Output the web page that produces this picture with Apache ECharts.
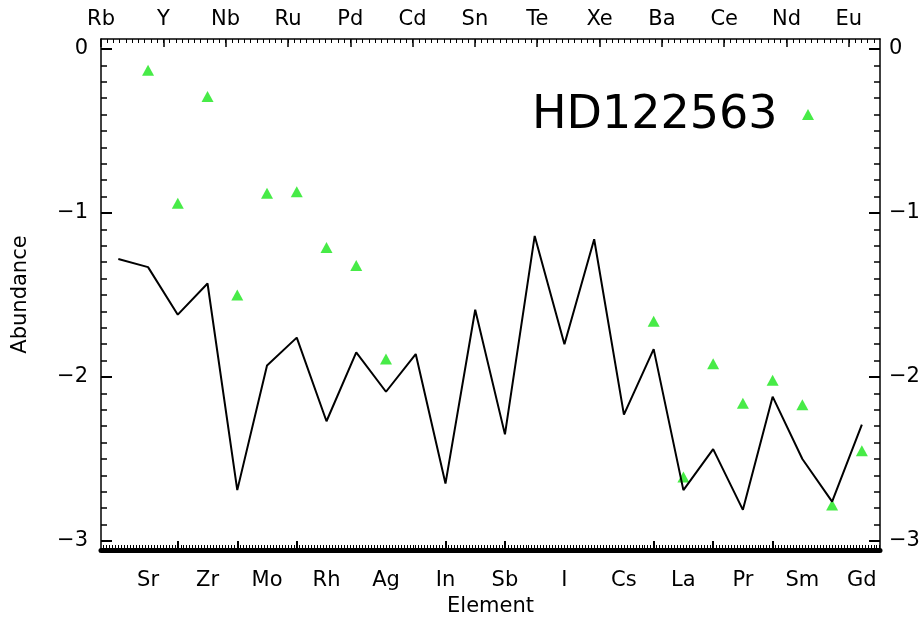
<!DOCTYPE html>
<html>
<head>
<meta charset="utf-8">
<script src="https://cdn.jsdelivr.net/npm/echarts@6/dist/echarts.min.js"></script>
<style>html,body{margin:0;padding:0;background:#fff}#c{width:922px;height:620px}</style>
</head>
<body>
<div id="c"></div>
<script>
// Elements in plotting order
const elements = ['Rb','Sr','Y','Zr','Nb','Mo','Ru','Rh','Pd','Ag','Cd','In','Sn','Sb','Te','I','Xe','Cs','Ba','La','Ce','Pr','Nd','Sm','Eu','Gd'];
// Model curve (black line)
const modelValues = [-1.28,-1.33,-1.62,-1.43,-2.69,-1.93,-1.76,-2.27,-1.85,-2.09,-1.86,-2.65,-1.59,-2.35,-1.14,-1.80,-1.16,-2.23,-1.83,-2.69,-2.44,-2.81,-2.12,-2.50,-2.76,-2.29];
// Observed abundances HD122563 (green triangles)
const obsValues = [null,-0.13,-0.94,-0.29,-1.50,-0.88,-0.87,-1.21,-1.32,-1.89,null,null,null,null,null,null,null,null,-1.66,-2.61,-1.92,-2.16,-2.02,-2.17,-2.78,-2.45];
// Tick labels
const bottomLabels = ['Sr','Zr','Mo','Rh','Ag','In','Sb','I','Cs','La','Pr','Sm','Gd'];
const topLabels = ['Rb','Y','Nb','Ru','Pd','Cd','Sn','Te','Xe','Ba','Ce','Nd','Eu'];
const yTicks = [-3,-2,-1,0];
const bottomMajorTicks = [2,4,6,11,13,18,20,22];

const bottomLabelPos = bottomLabels.map(n => elements.indexOf(n));
const topLabelPos = topLabels.map((n,i) => i);
function steps(a,b,s){const r=[];for(let v=a;v<=b+1e-9;v+=s)r.push(Math.round(v*100)/100);return r;}

const FONT = 'DejaVu Sans';
const FS = 21;
const XMIN=-0.582, XMAX=25.61, TMIN=0, TMAX=12.5, YMIN=-3.055, YMAX=0.061;
const minusU = v => (Math.round(v)<0 ? '\u2212' + Math.abs(Math.round(v)) : String(Math.round(v)));
const minusRich = v => '{a|' + minusU(v) + '}';

const chart = echarts.init(document.getElementById('c'), null, {renderer:'canvas'});
chart.setOption({
  animation:false,
  backgroundColor:'#fff',
  title:{text:'HD122563', left:527, top:88, textStyle:{fontFamily:FONT, fontSize:46, fontWeight:'normal', color:'#000'}},
  legend:{data:['HD122563'], left:802, top:109, itemWidth:12, itemHeight:11, formatter:()=> '', padding:0},
  grid:{left:101, right:42, top:39, bottom:70, outerBoundsMode:'none', containLabel:false},
  xAxis:[
    {type:'value', position:'bottom', min:XMIN, max:XMAX,
     name:'Element', nameLocation:'middle', nameGap:46, nameTextStyle:{fontFamily:FONT, fontSize:FS, color:'#000'},
     axisLine:{show:true, onZero:false, lineStyle:{color:'#000', width:5}},
     axisTick:{show:true, inside:true, length:9, customValues:bottomMajorTicks, lineStyle:{color:'#000', width:2}},
     axisLabel:{show:true, customValues:bottomLabelPos, formatter:v=>elements[Math.round(v)], margin:20, fontFamily:FONT, fontSize:FS, color:'#000'},
     splitLine:{show:false}},
    {type:'value', position:'bottom', min:XMIN, max:XMAX,
     axisLine:{show:false, onZero:false}, axisLabel:{show:false}, splitLine:{show:false},
     axisTick:{show:true, inside:true, length:5, customValues:steps(-0.5,25.6,0.1), lineStyle:{color:'#000', width:1}}},
    {type:'value', position:'top', min:TMIN, max:TMAX,
     axisLine:{show:true, onZero:false, lineStyle:{color:'#000', width:1.5}},
     axisTick:{show:true, inside:true, length:8, customValues:topLabelPos, lineStyle:{color:'#000', width:1.5}},
     axisLabel:{show:true, customValues:topLabelPos, formatter:v=>topLabels[Math.round(v)], margin:9, fontFamily:FONT, fontSize:FS, color:'#000'},
     splitLine:{show:false}},
    {type:'value', position:'top', min:TMIN, max:TMAX,
     axisLine:{show:false, onZero:false}, axisLabel:{show:false}, splitLine:{show:false},
     axisTick:{show:true, inside:true, length:4, customValues:steps(0.1,12.4,0.1), lineStyle:{color:'#000', width:1}}}
  ],
  yAxis:[
    {type:'value', position:'left', min:YMIN, max:YMAX,
     name:'Abundance', nameLocation:'middle', nameGap:70, nameRotate:90, nameTextStyle:{fontFamily:FONT, fontSize:FS, color:'#000'},
     axisLine:{show:true, onZero:false, lineStyle:{color:'#000', width:1.5}},
     axisTick:{show:true, inside:true, length:11, customValues:yTicks, lineStyle:{color:'#000', width:2}},
     axisLabel:{show:true, customValues:yTicks, formatter:minusRich, margin:13, fontFamily:FONT, fontSize:FS, color:'#000',
       rich:{a:{width:34, align:'right', fontFamily:FONT, fontSize:FS, color:'#000'}}},
     splitLine:{show:false}},
    {type:'value', position:'left', min:YMIN, max:YMAX,
     axisLine:{show:false, onZero:false}, axisLabel:{show:false}, splitLine:{show:false},
     axisTick:{show:true, inside:true, length:6, customValues:steps(-3,0,0.1), lineStyle:{color:'#000', width:1.5}}},
    {type:'value', position:'right', min:YMIN, max:YMAX,
     axisLine:{show:true, onZero:false, lineStyle:{color:'#000', width:1.5}},
     axisTick:{show:true, inside:true, length:11, customValues:yTicks, lineStyle:{color:'#000', width:2}},
     axisLabel:{show:true, customValues:yTicks, formatter:minusU, margin:9, fontFamily:FONT, fontSize:FS, color:'#000'},
     splitLine:{show:false}},
    {type:'value', position:'right', min:YMIN, max:YMAX,
     axisLine:{show:false, onZero:false}, axisLabel:{show:false}, splitLine:{show:false},
     axisTick:{show:true, inside:true, length:6, customValues:steps(-3,0,0.1), lineStyle:{color:'#000', width:1.5}}}
  ],
  series:[
    {name:'model', type:'line', xAxisIndex:0, yAxisIndex:0, showSymbol:false, symbol:'none',
     lineStyle:{color:'#000', width:2}, data:modelValues.map((v,i)=>[i,v])},
    {name:'HD122563', type:'scatter', xAxisIndex:0, yAxisIndex:0, symbol:'triangle', symbolSize:[12,11],
     itemStyle:{color:'#19e619'},
     data:obsValues.map((v,i)=>[i,v]).filter(d=>d[1]!==null)}
  ]
});
</script>
</body>
</html>
